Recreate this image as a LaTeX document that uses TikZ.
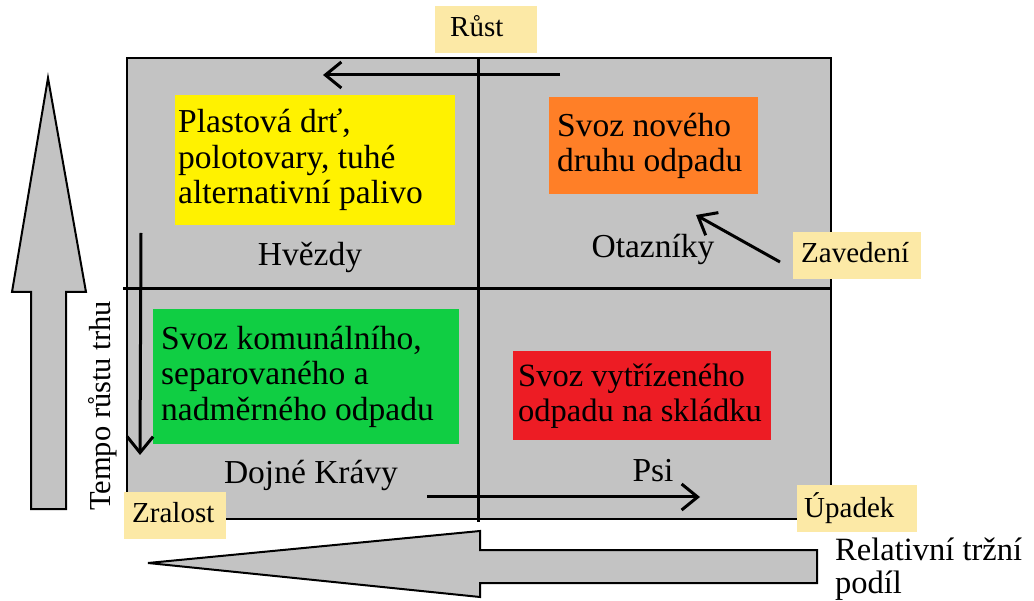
\documentclass[tikz,border=0pt]{standalone}
\usepackage{fontspec}
\setmainfont{Liberation Serif}
\usetikzlibrary{arrows.meta}
\definecolor{matgray}{HTML}{C3C3C3}
\definecolor{starclr}{HTML}{FFF200}
\definecolor{questclr}{HTML}{FF7F27}
\definecolor{cowclr}{HTML}{10CE43}
\definecolor{dogclr}{HTML}{ED1C24}
\definecolor{stageclr}{HTML}{FCE9A6}
\begin{document}
\begin{tikzpicture}[x=1pt,y=-1pt,
    big/.style={font=\fontsize{33.5}{35.5}\selectfont},
    small/.style={font=\fontsize{29}{31}\selectfont},
    prod/.style={big,anchor=north west,align=flush left,inner ysep=0pt,inner xsep=8pt},
    stage/.style={small,fill=stageclr,anchor=north west,align=flush left,inner ysep=0pt,
      inner xsep=8pt,minimum height=47pt,text depth=7pt},
    quad/.style={big,anchor=base,inner sep=0pt},
    move/.style={line width=3pt,-{Straight Barb[length=16pt,width=26pt]}},
    hollow/.style={fill=matgray,draw=black,line width=2pt,line join=miter}]
  \useasboundingbox (0,0) rectangle (1034,601);
  \draw[hollow] (48,78) -- (86,292) -- (66,292) -- (66,509) -- (31,509)
    -- (31,292) -- (12,292) -- cycle;
  \draw[hollow] (148,563) -- (480,531) -- (480,550) -- (817,550) -- (817,583)
    -- (480,583) -- (480,597) -- cycle;
  \draw[fill=matgray,line width=2pt] (127,58) rectangle (831,519);
  \draw[line width=3pt] (478,57) -- (478,522);
  \draw[line width=3pt] (123,289) -- (830,289);
  \draw
    (175,95) node[prod,fill=starclr,inner xsep=3pt,text width=274pt,minimum height=130pt] (star)
      {Plastová drť,\\polotovary, tuhé\\alternativní palivo}
    (549,97) node[prod,fill=questclr,text width=193pt,minimum height=97pt] (quest)
      {Svoz nového\\druhu odpadu}
    (153,309) node[prod,fill=cowclr,text width=290pt,minimum height=135pt] (cow)
      {Svoz komunálního,\\separovaného a\\nadměrného odpadu}
    (513,351) node[prod,fill=dogclr,font=\fontsize{32.5}{35}\selectfont,inner xsep=5pt,
      text width=248pt,minimum height=89pt] (dog)
      {Svoz vytřízeného\\odpadu na skládku};
  \draw
    (310,266) node[quad] (hv) {Hvězdy}
    (653,258) node[quad] (ot) {Otazníky}
    (311,483) node[quad] (dk) {Dojné Krávy}
    (653,482) node[quad] (ps) {Psi};
  \draw
    (435,6) node[stage,inner xsep=15pt,text width=72pt] (rust) {Růst}
    (793,232) node[stage,text width=112pt] (zav) {Zavedení}
    (124,492) node[stage,text width=86pt] (zral) {Zralost}
    (797,485) node[stage,inner xsep=7pt,text width=106pt] (upad) {Úpadek};
  \node[font=\fontsize{30.5}{32}\selectfont,rotate=90] (tempo) at (103,406) {Tempo růstu trhu};
  \node[font=\fontsize{32.5}{33}\selectfont,anchor=north west,align=flush left,inner sep=0pt]
    (podil) at (835,538) {Relativní tržní\\podíl};
  \coordinate (t1) at (560,75);
  \coordinate (t2) at (323,75);
  \coordinate (l1) at (141,233);
  \coordinate (l2) at (140,455);
  \coordinate (b1) at (427,497);
  \coordinate (b2) at (700,497);
  \coordinate (z1) at (780,262);
  \coordinate (z2) at (696,215);
  \begin{scope}[move]
    \draw (t1) to (t2);
    \draw (l1) to (l2);
    \draw (b1) to (b2);
    \draw (z1) to (z2);
  \end{scope}
\end{tikzpicture}
\end{document}
